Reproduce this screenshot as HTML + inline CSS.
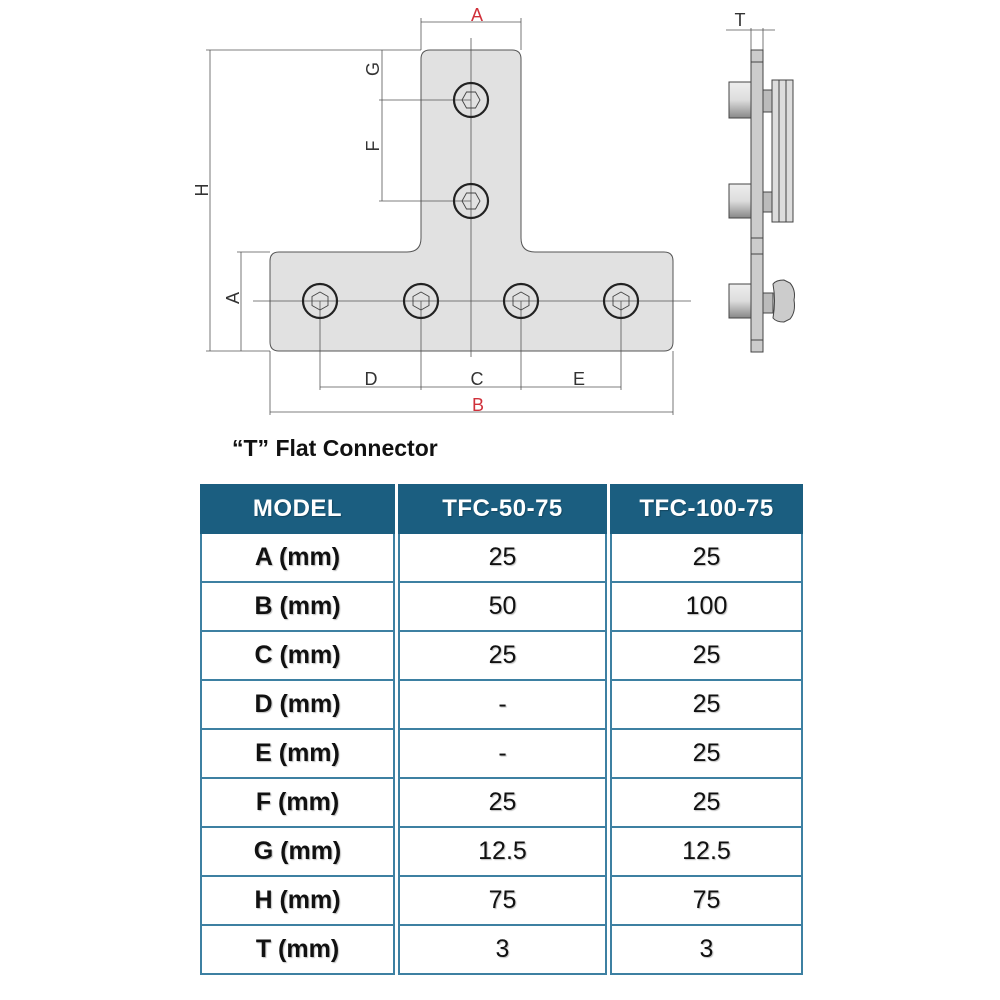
<!DOCTYPE html>
<html><head><meta charset="utf-8"><style>
html,body{margin:0;padding:0;background:#fff;width:1000px;height:1000px;overflow:hidden;font-family:"Liberation Sans",sans-serif}
.title{position:absolute;left:232px;top:435px;font-size:23px;font-weight:bold;color:#111}
.col{position:absolute;top:484px}
.cell{box-sizing:border-box;border:2px solid #3d80a2;border-top:none;height:49px;display:flex;align-items:center;justify-content:center;font-size:25px;color:#111;text-shadow:1px 1px 1px rgba(0,0,0,0.25)}
.hd{background:#1b5e80;color:#fff;font-weight:bold;height:50px;border:none;font-size:24px;letter-spacing:0.5px}
.c1 .cell{font-weight:bold}
</style></head><body>
<svg width="1000" height="430" style="position:absolute;left:0;top:0" xmlns="http://www.w3.org/2000/svg">
<g fill="none" stroke="#444" stroke-width="1">
<path d="M430 50 H512 Q521 50 521 59 V238 Q521 252 535 252 H664 Q673 252 673 261 V342 Q673 351 664 351 H279 Q270 351 270 342 V261 Q270 252 279 252 H407 Q421 252 421 238 V59 Q421 50 430 50 Z" fill="#e1e1e1" stroke="#555"/>
</g>
<g stroke="#555" stroke-width="0.8" fill="none">
<line x1="421" y1="18" x2="421" y2="50"/><line x1="521" y1="18" x2="521" y2="50"/>
<line x1="421" y1="22" x2="521" y2="22"/>
<line x1="206" y1="50" x2="421" y2="50"/><line x1="206" y1="351" x2="270" y2="351"/>
<line x1="210" y1="50" x2="210" y2="351"/>
<line x1="382" y1="50" x2="382" y2="201"/>
<line x1="379" y1="100" x2="471" y2="100"/><line x1="379" y1="201" x2="471" y2="201"/>
<line x1="237" y1="252" x2="270" y2="252"/>
<line x1="241" y1="252" x2="241" y2="351"/>
<line x1="471" y1="38" x2="471" y2="357"/>
<line x1="253" y1="301" x2="691" y2="301"/>
<line x1="320" y1="301" x2="320" y2="390"/><line x1="421" y1="301" x2="421" y2="390"/>
<line x1="521" y1="301" x2="521" y2="390"/><line x1="621" y1="301" x2="621" y2="390"/>
<line x1="320" y1="387" x2="621" y2="387"/>
<line x1="270" y1="351" x2="270" y2="415"/><line x1="673" y1="351" x2="673" y2="415"/>
<line x1="270" y1="412" x2="673" y2="412"/>
<line x1="726" y1="30" x2="775" y2="30"/>
<line x1="751" y1="28" x2="751" y2="50"/><line x1="763" y1="28" x2="763" y2="50"/>
</g>
<g fill="none" stroke="#222" stroke-width="2.2">
<circle cx="471" cy="100" r="17"/><circle cx="471" cy="201" r="17"/>
<circle cx="320" cy="301" r="17"/><circle cx="421" cy="301" r="17"/>
<circle cx="521" cy="301" r="17"/><circle cx="621" cy="301" r="17"/>
</g>
<g fill="none" stroke="#444" stroke-width="0.9">
<polygon points="462,100 466.5,92 475.5,92 480,100 475.5,108 466.5,108"/>
<polygon points="462,201 466.5,193 475.5,193 480,201 475.5,209 466.5,209"/>
<polygon points="320,292 328,296.5 328,305.5 320,310 312,305.5 312,296.5"/>
<polygon points="421,292 429,296.5 429,305.5 421,310 413,305.5 413,296.5"/>
<polygon points="521,292 529,296.5 529,305.5 521,310 513,305.5 513,296.5"/>
<polygon points="621,292 629,296.5 629,305.5 621,310 613,305.5 613,296.5"/>
</g>
<g font-family="Liberation Sans,sans-serif" font-size="18" fill="#333" text-anchor="middle">
<text x="477" y="21" fill="#d0303a">A</text>
<text x="478" y="411" fill="#d0303a">B</text>
<text x="371" y="385">D</text><text x="477" y="385">C</text><text x="579" y="385">E</text>
<text x="740" y="26">T</text>
<text transform="translate(208,190) rotate(-90)">H</text>
<text transform="translate(379,69) rotate(-90)">G</text>
<text transform="translate(379,146) rotate(-90)">F</text>
<text transform="translate(239,298) rotate(-90)">A</text>
</g>
<defs><linearGradient id="cap" x1="0" y1="0" x2="0" y2="1"><stop offset="0" stop-color="#eee"/><stop offset="0.5" stop-color="#ddd"/><stop offset="1" stop-color="#888"/></linearGradient></defs>
<g stroke="#444" stroke-width="1">
<rect x="751" y="50" width="12" height="302" fill="#ccc"/>
<rect x="729" y="82" width="22" height="36" fill="url(#cap)"/>
<rect x="729" y="184" width="22" height="34" fill="url(#cap)"/>
<rect x="729" y="284" width="22" height="34" fill="url(#cap)"/>
<rect x="763" y="90" width="10" height="22" fill="#bbb"/>
<rect x="763" y="192" width="10" height="20" fill="#bbb"/>
<rect x="763" y="293" width="10" height="20" fill="#bbb"/>
<rect x="772" y="80" width="21" height="142" fill="#ddd"/>
<line x1="779" y1="80" x2="779" y2="222"/><line x1="786" y1="80" x2="786" y2="222"/>
<path d="M773 284 Q776 280 784 280 L790 283 Q796 290 794 300 Q796 312 790 319 L784 322 Q776 322 773 318 Q776 301 773 284 Z" fill="#ccc"/>
<line x1="751" y1="62" x2="763" y2="62"/><line x1="751" y1="238" x2="763" y2="238"/><line x1="751" y1="254" x2="763" y2="254"/><line x1="751" y1="340" x2="763" y2="340"/>
</g>
</svg>
<div class="title">“T” Flat Connector</div>
<div class="col c1" style="left:200px;width:195px">
<div class="cell hd">MODEL</div>
<div class="cell">A (mm)</div><div class="cell">B (mm)</div><div class="cell">C (mm)</div><div class="cell">D (mm)</div><div class="cell">E (mm)</div><div class="cell">F (mm)</div><div class="cell">G (mm)</div><div class="cell">H (mm)</div><div class="cell">T (mm)</div>
</div>
<div class="col" style="left:398px;width:209px">
<div class="cell hd">TFC-50-75</div>
<div class="cell">25</div><div class="cell">50</div><div class="cell">25</div><div class="cell">-</div><div class="cell">-</div><div class="cell">25</div><div class="cell">12.5</div><div class="cell">75</div><div class="cell">3</div>
</div>
<div class="col" style="left:610px;width:193px">
<div class="cell hd">TFC-100-75</div>
<div class="cell">25</div><div class="cell">100</div><div class="cell">25</div><div class="cell">25</div><div class="cell">25</div><div class="cell">25</div><div class="cell">12.5</div><div class="cell">75</div><div class="cell">3</div>
</div>
</body></html>
